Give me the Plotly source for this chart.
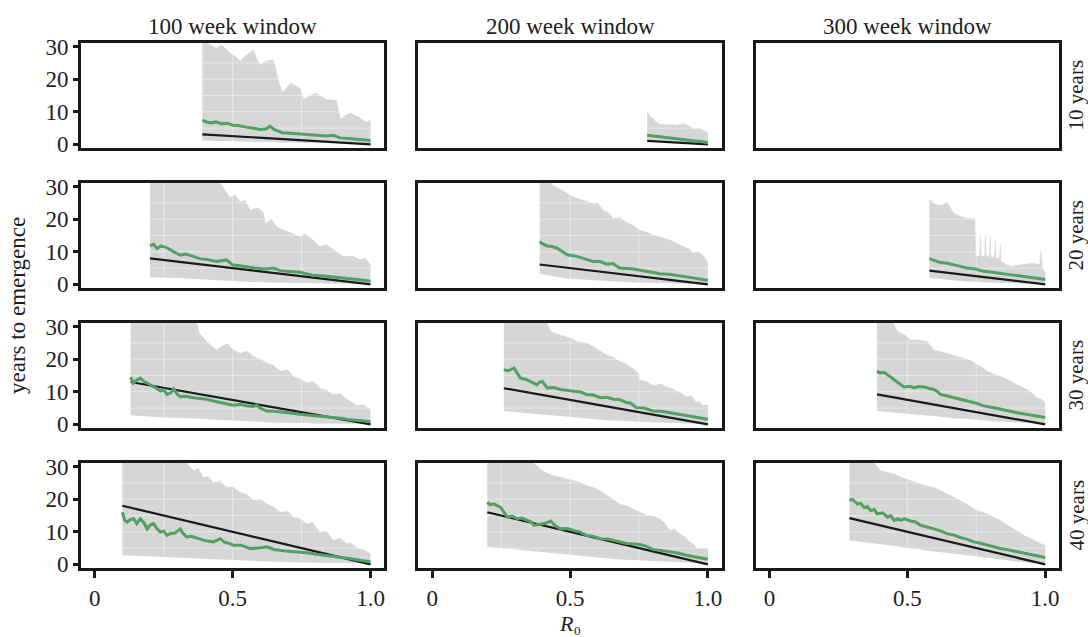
import plotly.graph_objects as go
from plotly.subplots import make_subplots

# ---------------- labels / ticks ----------------
WINDOWS = ["100 week window", "200 week window", "300 week window"]
HORIZONS = ["10 years", "20 years", "30 years", "40 years"]
X_TICKS = [0, 0.5, 1.0]
X_TICK_TEXT = ["0", "0.5", "1.0"]
Y_TICKS = [0, 10, 20, 30]
GRID_X = [0.25, 0.5, 0.75]
GRID_Y = [5, 10, 15, 20, 25]

# ---------------- black reference lines (start x, start y) -> (1.0, 0) ----------------
BLACK_X0 = [[0.39, 0.78, None], [0.20, 0.39, 0.58], [0.13, 0.26, 0.39], [0.10, 0.20, 0.29]]
BLACK_Y0 = [[3.1, 1.1, None], [8.0, 6.1, 4.2], [13.0, 11.1, 9.2], [18.0, 16.0, 14.2]]
BLACK_X1 = 1.0
BLACK_Y1 = 0.0

# ---------------- row 1 (10 years) ----------------
r1c1_bx = [0.39, 0.42, 0.44, 0.46, 0.49, 0.51, 0.527, 0.545, 0.575, 0.59, 0.60, 0.62, 0.648, 0.665, 0.68, 0.71, 0.744, 0.757, 0.78, 0.80, 0.84, 0.877, 0.89, 0.925, 0.96, 0.985, 1.0]
r1c1_hi = [32, 30.5, 29.5, 30.5, 28, 27, 25.4, 27, 29, 26, 24.4, 25.5, 26, 19.9, 15.8, 18.8, 17.3, 13.8, 15, 15.8, 13.8, 13.5, 7.7, 9.7, 8.2, 6.7, 7.5]
r1c1_lo = [1.2, 1.2, 1.1, 1.1, 1.0, 1.0, 0.9, 0.9, 0.8, 0.8, 0.8, 0.7, 0.7, 0.6, 0.6, 0.6, 0.5, 0.5, 0.5, 0.5, 0.4, 0.4, 0.4, 0.4, 0.3, 0.3, 0.3]
r1c1_gx = [0.39, 0.40, 0.42, 0.44, 0.46, 0.48, 0.50, 0.52, 0.55, 0.58, 0.60, 0.62, 0.636, 0.65, 0.68, 0.71, 0.75, 0.80, 0.84, 0.865, 0.89, 0.93, 0.97, 1.0]
r1c1_g = [7.5, 7.0, 6.6, 6.9, 6.3, 6.5, 5.9, 5.8, 5.3, 5.0, 4.6, 4.7, 5.6, 4.6, 3.6, 3.4, 3.1, 2.8, 2.6, 2.8, 2.0, 1.7, 1.4, 1.2]

r1c2_bx = [0.78, 0.79, 0.80, 0.81, 0.825, 0.85, 0.885, 0.91, 0.93, 0.95, 0.97, 1.0]
r1c2_hi = [10.2, 8.6, 8.2, 7.0, 6.2, 6.0, 5.9, 6.3, 5.7, 4.7, 4.9, 3.6]
r1c2_lo = [1.1, 1.0, 1.0, 0.9, 0.9, 0.8, 0.7, 0.6, 0.5, 0.4, 0.4, 0.3]
r1c2_gx = [0.78, 0.82, 0.86, 0.90, 0.94, 1.0]
r1c2_g = [2.8, 2.4, 2.0, 1.6, 1.2, 0.6]

# ---------------- row 2 (20 years) ----------------
r2c1_bx = [0.20, 0.30, 0.40, 0.455, 0.49, 0.51, 0.527, 0.545, 0.563, 0.59, 0.61, 0.62, 0.64, 0.66, 0.69, 0.71, 0.744, 0.76, 0.786, 0.816, 0.84, 0.865, 0.90, 0.937, 0.96, 0.98, 1.0]
r2c1_hi = [32, 32, 32, 31, 26.7, 27.5, 25.2, 25.8, 22.7, 23.5, 22.2, 18.6, 20, 17.6, 16.5, 15.6, 14.6, 15.5, 14.1, 11.6, 12.2, 10.6, 8.6, 8.6, 7.6, 8.0, 6.0]
r2c1_lo = [2.2, 2.0, 1.5, 1.2, 1.0, 0.9, 0.8, 0.8, 0.7, 0.7, 0.6, 0.6, 0.5, 0.5, 0.5, 0.4, 0.4, 0.4, 0.3, 0.3, 0.3, 0.3, 0.2, 0.2, 0.2, 0.2, 0.2]
r2c1_gx = [0.20, 0.213, 0.226, 0.24, 0.26, 0.273, 0.286, 0.31, 0.33, 0.358, 0.38, 0.41, 0.44, 0.478, 0.50, 0.52, 0.55, 0.58, 0.62, 0.648, 0.67, 0.696, 0.744, 0.79, 0.83, 0.865, 0.90, 0.925, 0.96, 1.0]
r2c1_g = [11.8, 12.3, 11.0, 11.8, 11.3, 10.6, 10.0, 9.0, 9.3, 8.6, 7.9, 7.6, 7.0, 7.5, 6.0, 5.8, 5.3, 5.0, 4.7, 5.0, 4.3, 4.0, 3.7, 2.8, 2.6, 2.2, 2.0, 1.7, 1.4, 1.0]

r2c2_bx = [0.39, 0.42, 0.44, 0.465, 0.49, 0.50, 0.537, 0.56, 0.585, 0.60, 0.62, 0.64, 0.657, 0.68, 0.705, 0.73, 0.754, 0.78, 0.80, 0.83, 0.862, 0.89, 0.91, 0.93, 0.946, 0.965, 0.98, 0.99, 1.0]
r2c2_hi = [32, 32, 30.2, 29.2, 28.0, 27.2, 26.2, 25.5, 24.7, 25.0, 22.7, 22.0, 20.1, 20.5, 19.1, 18.0, 16.6, 16.0, 15.1, 14.5, 13.6, 12.5, 11.6, 11.0, 9.6, 10.0, 9.1, 8.0, 6.5]
r2c2_lo = [3.3, 2.8, 2.5, 2.0, 1.8, 1.7, 1.5, 1.3, 1.2, 1.1, 1.0, 0.9, 0.8, 0.8, 0.7, 0.6, 0.6, 0.5, 0.5, 0.4, 0.4, 0.3, 0.3, 0.3, 0.3, 0.3, 0.3, 0.3, 0.3]
r2c2_gx = [0.39, 0.40, 0.417, 0.435, 0.453, 0.47, 0.49, 0.525, 0.55, 0.585, 0.61, 0.633, 0.655, 0.68, 0.73, 0.778, 0.826, 0.86, 0.886, 0.92, 0.946, 0.975, 1.0]
r2c2_g = [13.1, 12.5, 11.8, 11.6, 11.1, 10.2, 9.1, 8.6, 8.0, 7.0, 7.0, 6.2, 6.4, 5.0, 4.7, 4.0, 3.3, 3.1, 2.7, 2.4, 2.0, 1.6, 1.2]

r2c3_bx = [0.58, 0.596, 0.62, 0.645, 0.669, 0.69, 0.717, 0.745, 0.748, 0.762, 0.765, 0.768, 0.78, 0.783, 0.786, 0.797, 0.80, 0.803, 0.816, 0.819, 0.822, 0.834, 0.837, 0.84, 0.86, 0.873, 0.91, 0.958, 0.98, 0.985, 0.99, 1.0]
r2c3_hi = [26.2, 24.7, 24.2, 25.2, 21.7, 21.0, 20.1, 20.1, 8.6, 8.6, 15.1, 8.6, 8.6, 15.0, 8.6, 8.6, 14.5, 8.3, 8.3, 14.0, 8.0, 8.0, 12.0, 7.0, 6.0, 5.5, 6.0, 6.5, 6.0, 10.6, 5.0, 3.5]
r2c3_lo = [2.0, 1.8, 1.6, 1.4, 1.2, 1.0, 0.9, 0.8, 0.8, 0.7, 0.7, 0.7, 0.6, 0.6, 0.6, 0.6, 0.6, 0.6, 0.5, 0.5, 0.5, 0.5, 0.5, 0.5, 0.4, 0.4, 0.3, 0.2, 0.2, 0.1, 0.1, 0.1]
r2c3_gx = [0.58, 0.60, 0.62, 0.645, 0.669, 0.69, 0.717, 0.747, 0.777, 0.81, 0.837, 0.87, 0.898, 0.93, 0.958, 1.0]
r2c3_g = [7.9, 7.3, 6.7, 6.5, 6.0, 5.6, 5.0, 4.7, 4.0, 3.7, 3.3, 3.0, 2.7, 2.3, 2.0, 1.5]

# ---------------- row 3 (30 years) ----------------
r3c1_bx = [0.13, 0.25, 0.37, 0.38, 0.406, 0.44, 0.48, 0.50, 0.527, 0.55, 0.575, 0.60, 0.624, 0.65, 0.672, 0.70, 0.72, 0.745, 0.768, 0.79, 0.816, 0.84, 0.865, 0.89, 0.913, 0.93, 0.95, 0.975, 1.0]
r3c1_hi = [32, 32, 31, 27.9, 25.4, 22.8, 24.8, 23.0, 21.8, 22.5, 20.8, 20.0, 18.8, 18.0, 16.3, 16.8, 14.7, 14.0, 12.7, 13.2, 11.2, 10.5, 9.2, 9.5, 7.7, 7.0, 5.7, 6.0, 4.6]
r3c1_lo = [2.8, 2.1, 1.8, 1.7, 1.6, 1.4, 1.3, 1.2, 1.1, 1.0, 0.9, 0.8, 0.6, 0.6, 0.5, 0.5, 0.4, 0.4, 0.4, 0.3, 0.3, 0.3, 0.3, 0.2, 0.2, 0.2, 0.2, 0.2, 0.2]
r3c1_gx = [0.13, 0.14, 0.152, 0.165, 0.178, 0.19, 0.20, 0.213, 0.225, 0.238, 0.25, 0.262, 0.275, 0.286, 0.30, 0.31, 0.33, 0.358, 0.38, 0.406, 0.43, 0.455, 0.48, 0.503, 0.53, 0.55, 0.575, 0.587, 0.60, 0.624, 0.65, 0.684, 0.71, 0.744, 0.77, 0.805, 0.83, 0.865, 0.90, 0.925, 0.96, 1.0]
r3c1_g = [14.5, 12.7, 13.6, 14.2, 13.2, 12.7, 12.2, 11.5, 11.0, 10.2, 10.6, 9.2, 9.6, 10.9, 9.2, 8.5, 8.6, 8.2, 8.0, 7.7, 7.2, 6.7, 6.4, 5.9, 6.2, 5.7, 5.5, 5.9, 5.0, 4.1, 4.0, 3.8, 3.5, 3.1, 2.9, 2.6, 2.4, 2.1, 1.8, 1.4, 1.2, 0.9]

r3c2_bx = [0.26, 0.35, 0.417, 0.43, 0.465, 0.50, 0.525, 0.56, 0.585, 0.61, 0.633, 0.66, 0.68, 0.705, 0.73, 0.745, 0.754, 0.78, 0.80, 0.83, 0.85, 0.87, 0.886, 0.90, 0.92, 0.94, 0.958, 0.97, 0.982, 1.0]
r3c2_hi = [32, 32, 31, 28.4, 27.4, 26.5, 25.4, 25.0, 23.8, 22.5, 21.3, 20.5, 19.3, 18.5, 16.8, 16.0, 13.7, 13.0, 11.9, 12.3, 11.5, 11.0, 10.2, 9.8, 8.5, 8.8, 6.7, 7.0, 5.7, 6.0]
r3c2_lo = [4.1, 3.3, 2.9, 2.8, 2.6, 2.3, 2.1, 1.9, 1.7, 1.5, 1.3, 1.2, 1.1, 1.0, 0.9, 0.8, 0.8, 0.7, 0.6, 0.5, 0.5, 0.4, 0.4, 0.4, 0.3, 0.3, 0.3, 0.2, 0.2, 0.2]
r3c2_gx = [0.26, 0.275, 0.297, 0.31, 0.32, 0.34, 0.357, 0.37, 0.38, 0.39, 0.40, 0.417, 0.44, 0.465, 0.49, 0.513, 0.54, 0.56, 0.585, 0.61, 0.635, 0.657, 0.68, 0.705, 0.72, 0.74, 0.77, 0.80, 0.83, 0.862, 0.90, 0.946, 0.975, 1.0]
r3c2_g = [16.8, 16.4, 17.3, 15.5, 14.2, 13.8, 13.2, 12.5, 12.2, 13.0, 13.2, 11.2, 11.3, 10.7, 10.5, 10.2, 9.9, 9.2, 9.0, 8.2, 8.3, 7.7, 7.6, 6.7, 6.5, 5.2, 5.0, 4.1, 4.0, 3.6, 3.0, 2.4, 2.0, 1.6]

r3c3_bx = [0.39, 0.45, 0.464, 0.49, 0.512, 0.54, 0.572, 0.596, 0.62, 0.645, 0.67, 0.705, 0.73, 0.753, 0.77, 0.789, 0.81, 0.837, 0.86, 0.886, 0.91, 0.934, 0.95, 0.97, 0.985, 1.0]
r3c3_hi = [32, 31, 28.4, 27.5, 25.9, 25.9, 25.4, 22.8, 22.4, 21.8, 21.2, 20.3, 19.6, 18.3, 17.6, 16.3, 15.6, 14.7, 13.9, 12.7, 11.8, 10.7, 9.8, 8.2, 7.8, 6.7]
r3c3_lo = [4.1, 3.6, 3.4, 3.2, 3.0, 2.8, 2.7, 2.6, 2.3, 2.1, 1.9, 1.7, 1.5, 1.3, 1.2, 1.1, 1.0, 0.9, 0.7, 0.6, 0.5, 0.4, 0.3, 0.3, 0.2, 0.2]
r3c3_gx = [0.39, 0.40, 0.415, 0.428, 0.44, 0.452, 0.47, 0.488, 0.51, 0.524, 0.54, 0.56, 0.58, 0.596, 0.61, 0.62, 0.645, 0.669, 0.69, 0.717, 0.75, 0.777, 0.81, 0.837, 0.87, 0.898, 0.93, 0.958, 0.98, 1.0]
r3c3_g = [16.3, 15.8, 16.0, 15.3, 14.5, 13.7, 12.6, 11.5, 11.7, 11.2, 11.6, 11.5, 11.0, 10.7, 10.0, 9.2, 8.7, 8.2, 7.8, 7.2, 6.5, 5.7, 5.2, 4.6, 4.1, 3.6, 3.1, 2.6, 2.3, 2.1]

# ---------------- row 4 (40 years) ----------------
r4c1_bx = [0.10, 0.22, 0.334, 0.358, 0.375, 0.394, 0.41, 0.43, 0.455, 0.479, 0.50, 0.527, 0.55, 0.575, 0.60, 0.624, 0.65, 0.672, 0.70, 0.72, 0.745, 0.768, 0.79, 0.816, 0.84, 0.865, 0.89, 0.913, 0.93, 0.95, 0.975, 1.0]
r4c1_hi = [32, 32, 31, 28.7, 29.5, 26.6, 27.0, 25.1, 25.5, 23.6, 23.8, 22.1, 21.5, 19.6, 20.0, 18.5, 17.5, 16.0, 16.2, 14.5, 14.0, 12.5, 12.8, 9.9, 10.2, 7.4, 8.0, 6.4, 6.6, 4.9, 4.5, 3.3]
r4c1_lo = [2.8, 2.4, 2.1, 2.0, 1.9, 1.9, 1.8, 1.7, 1.6, 1.5, 1.4, 1.3, 1.2, 1.1, 1.0, 0.9, 0.8, 0.8, 0.8, 0.7, 0.6, 0.6, 0.5, 0.5, 0.4, 0.4, 0.4, 0.3, 0.3, 0.3, 0.3, 0.3]
r4c1_gx = [0.10, 0.108, 0.117, 0.13, 0.141, 0.152, 0.165, 0.178, 0.19, 0.20, 0.213, 0.225, 0.238, 0.25, 0.262, 0.275, 0.29, 0.31, 0.32, 0.334, 0.35, 0.365, 0.382, 0.40, 0.43, 0.443, 0.455, 0.47, 0.485, 0.503, 0.53, 0.563, 0.59, 0.624, 0.65, 0.684, 0.72, 0.744, 0.775, 0.805, 0.835, 0.865, 0.90, 0.925, 0.96, 1.0]
r4c1_g = [16.0, 13.6, 13.0, 13.8, 14.0, 12.5, 14.0, 12.8, 10.9, 12.0, 12.5, 11.0, 9.9, 10.2, 8.9, 9.5, 9.6, 10.9, 9.5, 8.4, 8.6, 8.2, 7.9, 7.3, 6.9, 7.5, 7.9, 6.8, 6.5, 5.9, 5.9, 4.9, 5.0, 5.4, 4.6, 4.2, 4.0, 3.9, 3.5, 3.1, 2.8, 2.3, 2.0, 1.8, 1.3, 0.8]

r4c2_bx = [0.20, 0.30, 0.37, 0.393, 0.415, 0.441, 0.465, 0.489, 0.51, 0.537, 0.56, 0.585, 0.61, 0.633, 0.655, 0.68, 0.705, 0.73, 0.754, 0.778, 0.80, 0.826, 0.845, 0.862, 0.88, 0.898, 0.915, 0.934, 0.95, 0.96, 1.0]
r4c2_hi = [32, 32, 31, 29.2, 28.0, 27.2, 26.8, 26.1, 25.8, 25.1, 24.2, 23.6, 22.5, 21.1, 20.0, 18.5, 18.0, 17.0, 16.0, 15.0, 14.8, 14.0, 12.5, 10.4, 10.8, 9.4, 8.5, 6.9, 6.0, 4.9, 4.9]
r4c2_lo = [5.4, 4.6, 4.0, 3.8, 3.6, 3.3, 3.1, 2.9, 2.7, 2.5, 2.4, 2.3, 2.1, 1.9, 1.7, 1.5, 1.4, 1.3, 1.1, 1.0, 0.9, 0.8, 0.8, 0.7, 0.6, 0.5, 0.5, 0.4, 0.4, 0.4, 0.3]
r4c2_gx = [0.20, 0.21, 0.225, 0.237, 0.249, 0.26, 0.273, 0.29, 0.309, 0.325, 0.345, 0.36, 0.369, 0.39, 0.41, 0.43, 0.445, 0.465, 0.49, 0.513, 0.535, 0.56, 0.585, 0.61, 0.635, 0.657, 0.68, 0.705, 0.73, 0.754, 0.775, 0.80, 0.83, 0.862, 0.89, 0.922, 0.96, 1.0]
r4c2_g = [19.0, 18.3, 18.5, 18.0, 17.5, 16.0, 14.5, 14.8, 14.0, 14.2, 13.5, 13.0, 12.0, 12.3, 12.6, 13.3, 12.0, 10.9, 11.0, 10.4, 10.0, 8.9, 8.6, 7.9, 7.8, 7.4, 7.0, 6.4, 6.3, 6.1, 5.6, 4.6, 4.3, 3.9, 3.5, 2.8, 2.2, 1.6]

r4c3_bx = [0.29, 0.36, 0.38, 0.404, 0.43, 0.452, 0.475, 0.50, 0.525, 0.548, 0.57, 0.596, 0.62, 0.645, 0.67, 0.693, 0.715, 0.741, 0.765, 0.789, 0.81, 0.837, 0.86, 0.886, 0.91, 0.934, 0.95, 0.97, 0.985, 1.0]
r4c3_hi = [32, 32, 31, 28.7, 28.2, 27.7, 26.8, 26.1, 25.4, 24.6, 24.0, 23.6, 22.5, 21.6, 20.5, 19.6, 18.5, 17.0, 16.3, 15.5, 14.6, 13.5, 12.2, 10.9, 9.8, 8.4, 7.9, 6.9, 6.3, 5.9]
r4c3_lo = [7.4, 6.7, 6.5, 6.3, 6.0, 5.8, 5.4, 5.0, 4.9, 4.6, 4.3, 4.0, 3.7, 3.4, 3.1, 2.9, 2.8, 2.6, 2.3, 2.0, 1.8, 1.4, 1.2, 1.0, 0.8, 0.6, 0.5, 0.4, 0.3, 0.3]
r4c3_gx = [0.29, 0.30, 0.319, 0.33, 0.343, 0.355, 0.367, 0.38, 0.39, 0.41, 0.428, 0.44, 0.452, 0.465, 0.476, 0.49, 0.512, 0.53, 0.548, 0.57, 0.596, 0.62, 0.645, 0.67, 0.693, 0.72, 0.741, 0.765, 0.789, 0.81, 0.837, 0.87, 0.898, 0.93, 0.958, 0.98, 1.0]
r4c3_g = [19.6, 20.0, 18.5, 18.8, 17.5, 17.8, 16.5, 16.9, 15.5, 15.8, 14.5, 14.9, 13.5, 14.0, 13.6, 14.0, 13.3, 13.0, 12.0, 11.6, 10.9, 10.3, 9.4, 9.0, 8.2, 7.6, 6.9, 6.5, 5.9, 5.6, 4.9, 4.4, 3.9, 3.4, 2.8, 2.4, 2.1]

PANELS = {
    (1, 1): (r1c1_bx, r1c1_hi, r1c1_lo, r1c1_gx, r1c1_g),
    (1, 2): (r1c2_bx, r1c2_hi, r1c2_lo, r1c2_gx, r1c2_g),
    (2, 1): (r2c1_bx, r2c1_hi, r2c1_lo, r2c1_gx, r2c1_g),
    (2, 2): (r2c2_bx, r2c2_hi, r2c2_lo, r2c2_gx, r2c2_g),
    (2, 3): (r2c3_bx, r2c3_hi, r2c3_lo, r2c3_gx, r2c3_g),
    (3, 1): (r3c1_bx, r3c1_hi, r3c1_lo, r3c1_gx, r3c1_g),
    (3, 2): (r3c2_bx, r3c2_hi, r3c2_lo, r3c2_gx, r3c2_g),
    (3, 3): (r3c3_bx, r3c3_hi, r3c3_lo, r3c3_gx, r3c3_g),
    (4, 1): (r4c1_bx, r4c1_hi, r4c1_lo, r4c1_gx, r4c1_g),
    (4, 2): (r4c2_bx, r4c2_hi, r4c2_lo, r4c2_gx, r4c2_g),
    (4, 3): (r4c3_bx, r4c3_hi, r4c3_lo, r4c3_gx, r4c3_g),
}

# ---------------- style ----------------
FONT = "Liberation Serif"
TXT = "#1e1e1e"
BAND = "#d6d6d6"
GREEN = "#52a063"
BLACK = "#1a1a1a"
X_RANGE = [-0.05, 1.05]
Y_RANGE = [-1.1, 31.1]
FS = 23

fig = make_subplots(rows=4, cols=3, horizontal_spacing=0.0348, vertical_spacing=0.0667)

for r in range(1, 5):
    for c in range(1, 4):
        if (r, c) in PANELS:
            bx, hi, lo, gx, g = PANELS[(r, c)]
            fig.add_trace(go.Scatter(x=bx, y=lo, mode="lines", line=dict(width=0, color=BAND),
                                     showlegend=False, hoverinfo="skip"), row=r, col=c)
            fig.add_trace(go.Scatter(x=bx, y=hi, mode="lines", line=dict(width=0.5, color=BAND),
                                     fill="tonexty", fillcolor=BAND,
                                     showlegend=False, hoverinfo="skip"), row=r, col=c)
            # light grid lines visible over the band
            gxs, gys = [], []
            for v in GRID_X:
                gxs += [v, v, None]
                gys += [Y_RANGE[0], Y_RANGE[1], None]
            for v in GRID_Y:
                gxs += [X_RANGE[0], X_RANGE[1], None]
                gys += [v, v, None]
            fig.add_trace(go.Scatter(x=gxs, y=gys, mode="lines",
                                     line=dict(width=1, color="rgba(255,255,255,0.45)"),
                                     showlegend=False, hoverinfo="skip"), row=r, col=c)
            fig.add_trace(go.Scatter(x=[BLACK_X0[r - 1][c - 1], BLACK_X1],
                                     y=[BLACK_Y0[r - 1][c - 1], BLACK_Y1],
                                     mode="lines", line=dict(width=2.2, color=BLACK),
                                     showlegend=False, hoverinfo="skip"), row=r, col=c)
            fig.add_trace(go.Scatter(x=gx, y=g, mode="lines", line=dict(width=3, color=GREEN),
                                     showlegend=False, hoverinfo="skip"), row=r, col=c)
        else:
            fig.add_trace(go.Scatter(x=[None], y=[None], showlegend=False, hoverinfo="skip"),
                          row=r, col=c)

        fig.update_xaxes(range=X_RANGE, showgrid=False, zeroline=False,
                         showline=True, mirror=True, linecolor=BLACK, linewidth=3,
                         tickvals=X_TICKS, ticktext=X_TICK_TEXT,
                         ticks="outside" if r == 4 else "", ticklen=7, tickwidth=2.5,
                         tickcolor=BLACK, showticklabels=(r == 4),
                         tickfont=dict(family=FONT, size=FS, color=TXT),
                         row=r, col=c)
        fig.update_yaxes(range=Y_RANGE, showgrid=False, zeroline=False,
                         showline=True, mirror=True, linecolor=BLACK, linewidth=3,
                         tickvals=Y_TICKS,
                         ticks="outside" if c == 1 else "", ticklen=5, tickwidth=2.5,
                         tickcolor=BLACK, showticklabels=(c == 1),
                         tickfont=dict(family=FONT, size=FS, color=TXT),
                         row=r, col=c)

annotations = []
col_centers = [0.1549, 0.5, 0.8451]
for c, t in enumerate(WINDOWS):
    annotations.append(dict(text=t, x=col_centers[c], y=1.0, xref="paper", yref="paper",
                            xanchor="center", yanchor="bottom", yshift=2, showarrow=False,
                            font=dict(family=FONT, size=FS, color=TXT)))
row_centers = [0.9, 0.6333, 0.3667, 0.1]
for r, t in enumerate(HORIZONS):
    annotations.append(dict(text=t, x=1.0, y=row_centers[r], xref="paper", yref="paper",
                            xanchor="left", yanchor="middle", xshift=3, textangle=-90,
                            showarrow=False, font=dict(family=FONT, size=21, color=TXT)))
annotations.append(dict(text="years to emergence", x=0, y=0.5, xref="paper", yref="paper",
                        xanchor="right", yanchor="middle", xshift=-49, textangle=-90,
                        showarrow=False, font=dict(family=FONT, size=23, color=TXT)))
annotations.append(dict(text="<i>R</i>\u2080", x=0.5, y=0, xref="paper", yref="paper",
                        xanchor="center", yanchor="top", yshift=-41,
                        showarrow=False, font=dict(family=FONT, size=22, color=TXT)))

fig.update_layout(width=1088, height=637, margin=dict(l=81, r=29, t=43, b=69),
                  plot_bgcolor="white", paper_bgcolor="white",
                  annotations=annotations, showlegend=False,
                  font=dict(family=FONT, size=FS, color=TXT))

fig.write_html("out.html")
